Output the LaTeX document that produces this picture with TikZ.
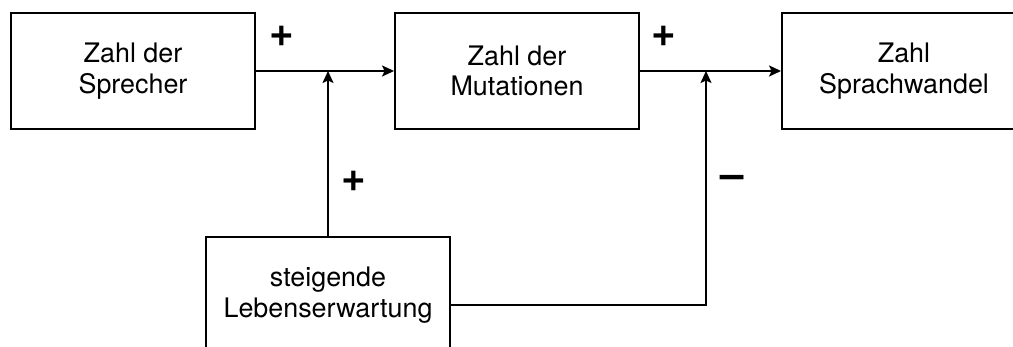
\documentclass[tikz,border=0pt]{standalone}
\usepackage{fontspec}
\setmainfont{TeX Gyre Heros}
\usetikzlibrary{arrows.meta}

\tikzset{
  kasten/.style={draw, line width=1.1pt, minimum width=4.88cm, minimum height=2.32cm,
    inner sep=0pt, align=center, font=\fontsize{15.3}{17.5}\selectfont},
  zeichen/.style={inner sep=0pt, font=\fontsize{24}{24}\selectfont\bfseries},
  pfeil/.style={-{Stealth[length=2.4mm, width=2.2mm, inset=0.5mm]}, line width=1pt}
}

\begin{document}
\begin{tikzpicture}[x=0.02cm, y=-0.02cm]
                \useasboundingbox (0, 0) rectangle (1013, 347);
                \clip (0, 0) rectangle (1013, 347);
                \node[kasten] (sprecher) at (133, 71) {Zahl der\\Sprecher};
                \node[kasten] (mutation) at (517, 71) {Zahl der\\Mutationen};
                \node[kasten] (wandel) at (904, 71) {Zahl\\Sprachwandel};
                \node[kasten] (leben) at (328, 295) {steigende\\Lebenserwartung};
                \coordinate (j1) at (326, 71);
                \coordinate (j2) at (706, 71);
                \draw[pfeil] (sprecher.east) -- (mutation.west);
                \draw[pfeil] (mutation.east) -- (wandel.west);
                \draw[pfeil] (leben.north) -- (leben.north |- j1);
                \draw[pfeil] ([yshift=-0.2cm]leben.east) -| (j2);
                \node[zeichen] (plus1) at (282, 36) {+};
                \node[zeichen] (plus2) at (664, 36) {+};
                \node[zeichen] (plus3) at (354, 181) {+};
                \node[zeichen] (minus) at (732, 182) {--};
            \end{tikzpicture}
\end{document}
